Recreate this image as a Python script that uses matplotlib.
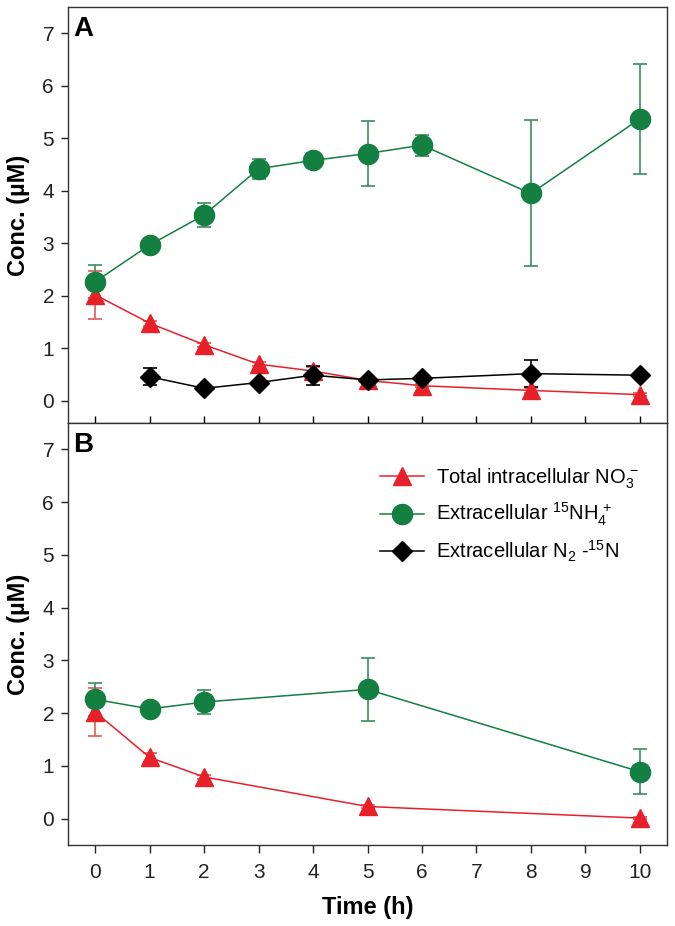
import numpy as np
import matplotlib
matplotlib.use('Agg')
import matplotlib.pyplot as plt
from matplotlib.lines import Line2D

plt.rcParams['font.family'] = ['Liberation Sans', 'DejaVu Sans']
plt.rcParams['mathtext.fontset'] = 'custom'
plt.rcParams['mathtext.rm'] = 'Liberation Sans'
plt.rcParams['mathtext.it'] = 'Liberation Sans'
plt.rcParams['mathtext.bf'] = 'Liberation Sans:bold'

# ---- panel A data
tA = [0, 1, 2, 3, 4, 5, 6, 8, 10]
no3_A = [2.02, 1.48, 1.07, 0.70, 0.57, 0.39, 0.29, 0.20, 0.12]
no3_A_err = [0.46, 0.05, 0.04, 0.04, 0.08, 0.04, 0.03, 0.05, 0.03]
nh4_A = [2.27, 2.97, 3.54, 4.42, 4.58, 4.71, 4.87, 3.95, 5.37]
nh4_A_err = [0.31, 0.03, 0.22, 0.19, 0.14, 0.62, 0.20, 1.39, 1.05]
tN2 = [1, 2, 3, 4, 5, 6, 8, 10]
n2_A = [0.46, 0.24, 0.35, 0.49, 0.40, 0.43, 0.52, 0.49]
n2_A_err = [0.16, 0.03, 0.03, 0.18, 0.03, 0.03, 0.26, 0.03]

# ---- panel B data
tB = [0, 1, 2, 5, 10]
no3_B = [2.02, 1.16, 0.79, 0.23, 0.01]
no3_B_err = [0.46, 0.08, 0.03, 0.03, 0.02]
nh4_B = [2.26, 2.08, 2.21, 2.45, 0.89]
nh4_B_err = [0.32, 0.03, 0.23, 0.60, 0.43]

lab_no3 = 'Total intracellular NO$_3^{\\,-}$'
lab_nh4 = 'Extracellular $^{15}$NH$_4^{\\,+}$'
lab_n2 = 'Extracellular N$_2$ -$^{15}$N'

red = '#e8202a'
red_err = '#e05a5a'
green = '#137f40'
green_err = '#3c8c5e'

fig = plt.figure(figsize=(6.75, 9.26), dpi=100)
axA = fig.add_axes([68/675, 1-423/926, 599/675, 416/926])
axB = fig.add_axes([68/675, 1-845/926, 599/675, 422/926])

def series(ax, x, y, e, color, ecolor, marker, ms):
    ax.errorbar(x, y, yerr=e, color=color, ecolor=ecolor, elinewidth=1.2,
                capsize=5, capthick=1.2, marker=marker, ms=ms, lw=1.1,
                mec=color)

series(axA, tA, no3_A, no3_A_err, red, red_err, '^', 13)
series(axA, tA, nh4_A, nh4_A_err, green, green_err, 'o', 14.5)
series(axA, tN2, n2_A, n2_A_err, 'black', 'black', 'D', 10.5)

series(axB, tB, no3_B, no3_B_err, red, red_err, '^', 13)
series(axB, tB, nh4_B, nh4_B_err, green, green_err, 'o', 14.5)

for ax in (axA, axB):
    ax.set_xlim(-0.5, 10.5)
    ax.set_xticks(range(0, 11))
    ax.set_yticks(range(0, 8))
    ax.set_ylabel('Conc. (µM)', fontsize=17, fontweight='bold', labelpad=9)
    ax.tick_params(axis='y', direction='out', length=5, width=1, labelsize=15,
                   colors='#222222', pad=5)
    for s in ax.spines.values():
        s.set_linewidth(1.0)
        s.set_color('#333333')

axA.set_ylim(-0.42, 7.5)
axB.set_ylim(-0.5, 7.5)
axA.tick_params(axis='x', direction='inout', length=10, width=1, labelbottom=False)
axB.tick_params(axis='x', direction='out', length=6, width=1, labelsize=15,
                colors='#222222', pad=7)
axB.set_xlabel('Time (h)', fontsize=17, fontweight='bold', labelpad=10)

axA.text(0.009, 0.978, 'A', transform=axA.transAxes, fontsize=20, fontweight='bold',
         va='top', ha='left')
axB.text(0.009, 0.978, 'B', transform=axB.transAxes, fontsize=20, fontweight='bold',
         va='top', ha='left')

handles = [
    Line2D([], [], color=red, marker='^', ms=13, lw=1.1),
    Line2D([], [], color=green, marker='o', ms=14.5, lw=1.1),
    Line2D([], [], color='black', marker='D', ms=10.5, lw=1.1),
]
axB.legend(handles, [lab_no3, lab_nh4, lab_n2], loc='upper left',
           bbox_to_anchor=(0.49, 0.94), frameon=False, fontsize=14.5,
           handlelength=2.2, handletextpad=0.6, labelspacing=0.5, numpoints=1)

fig.savefig('out.png', dpi=100)
